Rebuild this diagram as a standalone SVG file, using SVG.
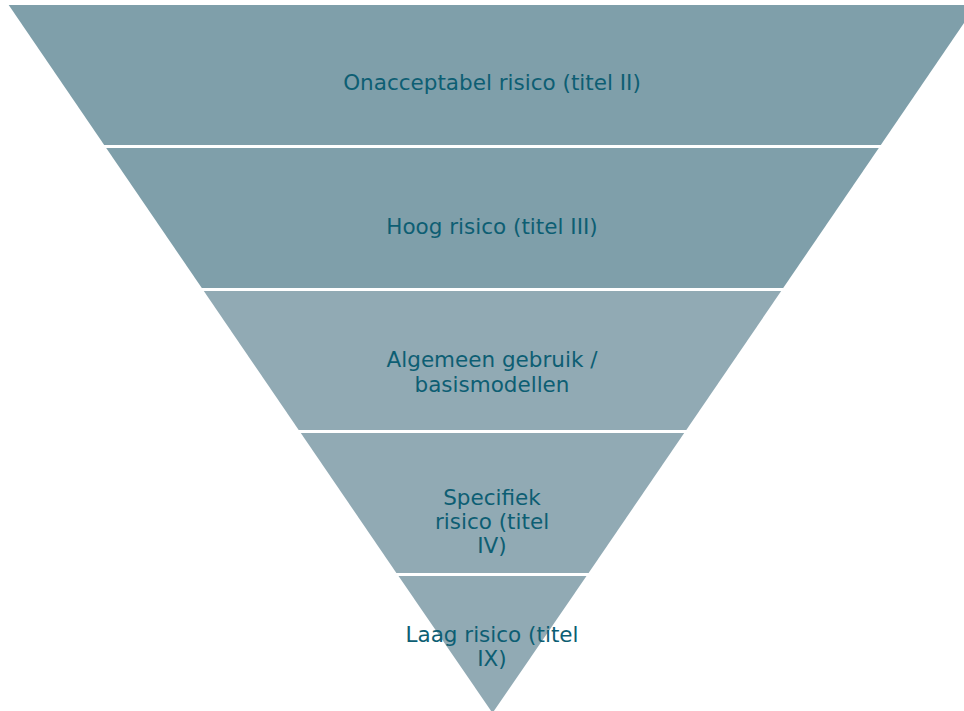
<svg xmlns="http://www.w3.org/2000/svg" width="964" height="711" viewBox="0 0 964 711">
  <style>
    .dark { fill: #7f9faa; }
    .light { fill: #91aab4; }
    .lbl { font-family: "DejaVu Sans", Verdana, sans-serif; font-size: 21.5px; fill: #0d5e73; text-anchor: middle; }
  </style>
  <rect width="964" height="711" fill="#ffffff"/>
  <!-- inverted pyramid, centre x=492.5, apex y=713, half-width = (713 - y) * 0.683 -->
  <g id="tier-1">
    <polygon class="dark" points="8.7,5 976.3,5 880.8,145 104.2,145"/>
    <text class="lbl" x="492" y="90">Onacceptabel risico (titel II)</text>
  </g>
  <g id="tier-2">
    <polygon class="dark" points="106.2,148 878.8,148 783.2,288 201.8,288"/>
    <text class="lbl" x="492" y="234">Hoog risico (titel III)</text>
  </g>
  <g id="tier-3">
    <polygon class="light" points="203.8,291 781.2,291 686.3,430 298.7,430"/>
    <text class="lbl" x="492" y="367">Algemeen gebruik /</text>
    <text class="lbl" x="492" y="392">basismodellen</text>
  </g>
  <g id="tier-4">
    <polygon class="light" points="300.8,433 684.2,433 588.6,573 396.4,573"/>
    <text class="lbl" x="492" y="505">Specifiek</text>
    <text class="lbl" x="492" y="529">risico (titel</text>
    <text class="lbl" x="492" y="553">IV)</text>
  </g>
  <g id="tier-5">
    <polygon class="light" points="398.5,576 586.5,576 492.5,713"/>
    <text class="lbl" x="492" y="642">Laag risico (titel</text>
    <text class="lbl" x="492" y="666">IX)</text>
  </g>
</svg>
